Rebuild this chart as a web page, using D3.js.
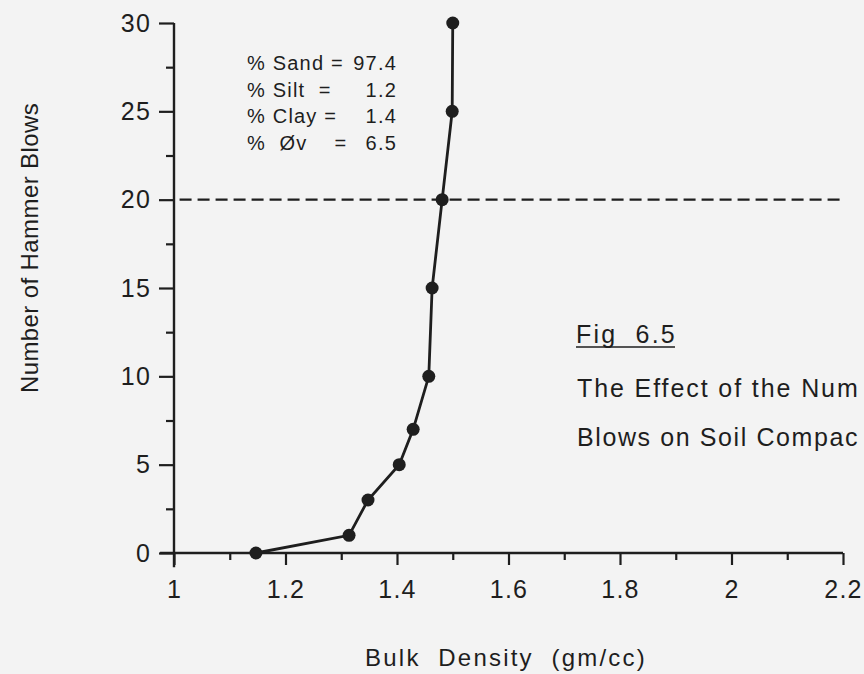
<!DOCTYPE html>
<html>
<head>
<meta charset="utf-8">
<script src="https://cdn.jsdelivr.net/npm/d3@7"></script>
<style>
  body { margin: 0; background: #f3f3f3; }
  svg { display: block; font-family: 'Liberation Sans', Arial, sans-serif; }
  .axis text { fill: #1e1e1e; font-size: 25px; letter-spacing: 1.2px; }
  .axis line { stroke: #1e1e1e; stroke-width: 2.2px; }
  .axisLine { stroke: #1e1e1e; stroke-width: 2.4px; }
  .curve { fill: none; stroke: #1e1e1e; stroke-width: 2.8px; }
  .dot { fill: #1e1e1e; }
  .dash { stroke: #1e1e1e; stroke-width: 2.4px; stroke-dasharray: 12 6; }
  .note { fill: #1e1e1e; font-size: 20px; letter-spacing: 1.2px; white-space: pre; }
  .caption { fill: #1e1e1e; font-size: 25px; letter-spacing: 2.2px; white-space: pre; }
  .title { fill: #1e1e1e; font-size: 24px; white-space: pre; }
</style>
</head>
<body>
<div id="graph"></div>
<script>
// blows vs. bulk density
var blows   = [0, 1, 3, 5, 7, 10, 15, 20, 25, 30];
var density = [1.147, 1.314, 1.348, 1.404, 1.429, 1.457, 1.463, 1.481, 1.499, 1.500];

var xTicks      = [1, 1.2, 1.4, 1.6, 1.8, 2, 2.2];
var xMinorTicks = [1.1, 1.3, 1.5, 1.7, 1.9, 2.1];
var yTicks      = [0, 5, 10, 15, 20, 25, 30];
var yMinorTicks = [2.5, 7.5, 12.5, 17.5, 22.5, 27.5];

var refBlows = 20;

var soilLabels = ['% Sand =', '% Silt  =', '% Clay =', '%  Øv    ='];
var soilValues = ['97.4', '1.2', '1.4', '6.5'];

var figLabel   = 'Fig  6.5';
var figCaption = ['The Effect of the Num', 'Blows on Soil Compac'];

function D3App ()
{
    var width  = 864;
    var height = 674;

    var svg = d3.select ('#graph')
                .append ('svg')
                .attr ('width', width)
                .attr ('height', height);

    // scales fitted to the scan: 1 -> 174px, 2.2 -> 843px; 0 -> 553px, 30 -> 23px
    var xScale = d3.scaleLinear ()
                   .domain ( [ 1, 2.2 ] )
                   .range ( [ 174, 843 ] );

    var yScale = d3.scaleLinear ()
                   .domain ( [ 0, 30 ] )
                   .range ( [ 553, 23 ] );

    // axis lines, slightly overshooting the origin like the original
    svg.append ('line')
       .attr ('class', 'axisLine')
       .attr ('x1', xScale (1)).attr ('x2', xScale (1))
       .attr ('y1', yScale (-0.8)).attr ('y2', yScale (30));

    svg.append ('line')
       .attr ('class', 'axisLine')
       .attr ('x1', xScale (0.975)).attr ('x2', xScale (2.2))
       .attr ('y1', yScale (0)).attr ('y2', yScale (0));

    // major + minor ticks
    var xAxis = d3.axisBottom (xScale)
                  .tickValues (xTicks)
                  .tickSize (12)
                  .tickPadding (15)
                  .tickFormat (d3.format ('~g'));

    var xMinor = d3.axisBottom (xScale)
                   .tickValues (xMinorTicks)
                   .tickSize (7)
                   .tickFormat ('');

    var yAxis = d3.axisLeft (yScale)
                  .tickValues (yTicks)
                  .tickSize (15)
                  .tickPadding (8);

    var yMinor = d3.axisLeft (yScale)
                   .tickValues (yMinorTicks)
                   .tickSize (8)
                   .tickFormat ('');

    [ [xAxis, 'x'], [xMinor, 'x'], [yAxis, 'y'], [yMinor, 'y'] ].forEach (function (a)
    {
        var g = svg.append ('g')
                   .attr ('class', 'axis')
                   .attr ('transform', a[1] == 'x' ? 'translate(0,' + yScale (0) + ')'
                                                   : 'translate(' + xScale (1) + ',0)')
                   .call (a[0]);
        g.select ('.domain').remove ();
    } );

    // dashed reference line at 20 blows
    svg.append ('line')
       .attr ('class', 'dash')
       .attr ('x1', xScale (1.01)).attr ('x2', xScale (2.2))
       .attr ('y1', yScale (refBlows)).attr ('y2', yScale (refBlows));

    // the curve
    var points = blows.map (function (b, i) { return { x: density[i], y: b }; });

    var curveLine = d3.line ()
                      .x (function (d) { return xScale (d.x); })
                      .y (function (d) { return yScale (d.y); })
                      .curve (d3.curveLinear);

    svg.append ('path')
       .datum (points)
       .attr ('class', 'curve')
       .attr ('d', curveLine);

    svg.selectAll ('.dot')
       .data (points)
       .enter ()
       .append ('circle')
       .attr ('class', 'dot')
       .attr ('cx', function (d) { return xScale (d.x); })
       .attr ('cy', function (d) { return yScale (d.y); })
       .attr ('r', 6.5);

    // soil composition note
    var note = svg.append ('g');
    soilLabels.forEach (function (lbl, i)
    {
        var by = 70 + i * 26.7;
        note.append ('text').attr ('class', 'note')
            .attr ('x', 247).attr ('y', by).text (lbl);
        note.append ('text').attr ('class', 'note')
            .attr ('x', 397).attr ('y', by)
            .attr ('text-anchor', 'end').text (soilValues[i]);
    } );

    // figure caption
    var fig = svg.append ('text')
                 .attr ('class', 'caption')
                 .attr ('x', 576).attr ('y', 343)
                 .text (figLabel);
    var fb = fig.node ().getBBox ();
    svg.append ('line')
       .attr ('x1', fb.x).attr ('x2', fb.x + fb.width - 2)
       .attr ('y1', 347).attr ('y2', 347)
       .style ('stroke', '#1e1e1e').style ('stroke-width', 1.6);

    figCaption.forEach (function (t, i)
    {
        var txt = svg.append ('text')
                     .attr ('class', 'caption')
                     .attr ('x', 577).attr ('y', 397 + i * 49)
                     .text (t);

        // squeeze the spacing so the line stays inside the page
        var ls = 2.2;
        while (ls > 0 && txt.node ().getBBox ().x + txt.node ().getBBox ().width > width - 3)
        {
            ls -= 0.1;
            txt.style ('letter-spacing', ls + 'px');
        }
    } );

    // axis titles
    svg.append ('text')
       .attr ('class', 'title')
       .attr ('x', 506).attr ('y', 666)
       .attr ('text-anchor', 'middle')
       .style ('letter-spacing', '2.2px')
       .text ('Bulk  Density  (gm/cc)');

    svg.append ('text')
       .attr ('class', 'title')
       .attr ('transform', 'translate(38,248) rotate(-90)')
       .attr ('text-anchor', 'middle')
       .style ('letter-spacing', '0.4px')
       .text ('Number of Hammer Blows');
}

D3App ();
</script>
</body>
</html>
